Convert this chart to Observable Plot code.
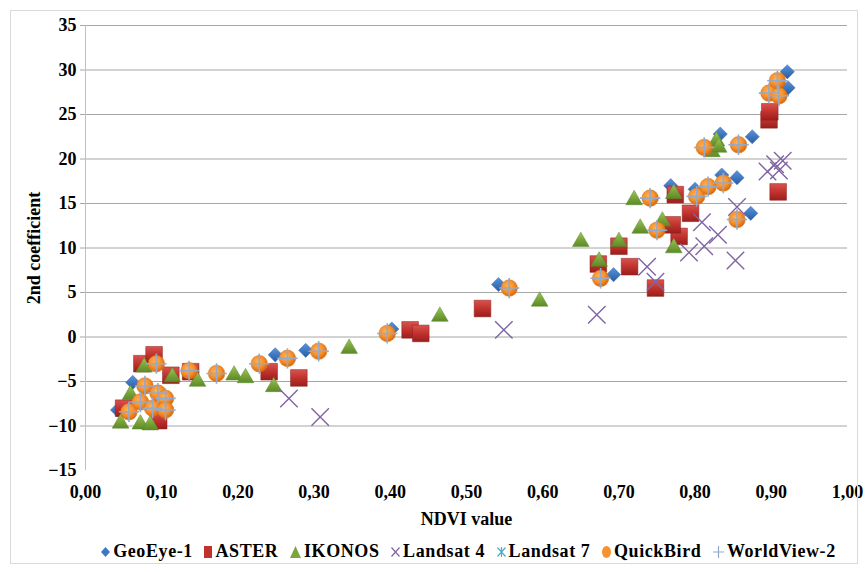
<!DOCTYPE html>
<html><head><meta charset="utf-8">
<script src="https://cdn.jsdelivr.net/npm/d3@7"></script>
<script src="https://cdn.jsdelivr.net/npm/@observablehq/plot@0.6"></script>
<style>
body{margin:0;background:#fff;}
#wrap{position:relative;width:868px;height:572px;font-family:"Liberation Serif","DejaVu Serif",serif;}
#border{position:absolute;left:10px;top:10px;width:848px;height:554px;border:1px solid #D9D9D9;box-sizing:border-box;pointer-events:none;}
#legend{position:absolute;left:0;top:541px;width:868px;display:flex;justify-content:center;align-items:center;padding-left:68px;box-sizing:border-box;font-weight:bold;font-size:18px;letter-spacing:0.6px;gap:10.5px;color:#000;}
#legend span.it{display:flex;align-items:center;gap:2px;white-space:nowrap;}
#legend svg{display:block;}
#chart svg text{font-family:"Liberation Serif","DejaVu Serif",serif;}
</style></head>
<body><div id="wrap"><div id="chart"></div><div id="legend"></div><div id="border"></div></div>
<script>
// ---- data (NDVI value, 2nd coefficient) ----
const geoEye1 = [[0.042,-8.2],[0.062,-5.1],[0.249,-2.0],[0.289,-1.5],[0.402,0.9],[0.542,5.9],[0.693,7.0],[0.768,17.0],[0.800,16.6],[0.835,18.2],[0.855,17.9],[0.873,13.9],[0.833,22.8],[0.875,22.5],[0.921,29.8],[0.922,28.0]];
const aster = [[0.050,-8.0],[0.074,-3.0],[0.090,-2.0],[0.096,-9.4],[0.112,-4.3],[0.138,-3.9],[0.241,-3.9],[0.280,-4.6],[0.426,0.8],[0.440,0.4],[0.521,3.2],[0.673,8.2],[0.700,10.2],[0.714,7.9],[0.748,5.5],[0.779,11.3],[0.770,12.6],[0.794,13.9],[0.774,16.0],[0.897,24.4],[0.898,25.3],[0.909,16.3]];
const ikonos = [[0.046,-9.7],[0.059,-6.5],[0.072,-9.8],[0.077,-3.4],[0.085,-9.9],[0.114,-4.5],[0.147,-5.0],[0.195,-4.3],[0.210,-4.6],[0.247,-5.6],[0.346,-1.3],[0.465,2.3],[0.596,4.0],[0.650,10.7],[0.674,8.5],[0.700,10.7],[0.720,15.4],[0.728,12.2],[0.757,13.0],[0.772,16.1],[0.772,10.0],[0.822,20.8],[0.828,22.0],[0.831,21.3]];
const landsat4 = [[0.267,-6.9],[0.308,-9.0],[0.549,0.8],[0.671,2.5],[0.737,7.9],[0.748,6.2],[0.792,9.5],[0.812,10.2],[0.809,12.9],[0.830,11.5],[0.853,8.6],[0.855,14.6],[0.895,18.6],[0.905,19.4],[0.910,18.7],[0.915,19.8]];
const landsat7 = [[0.057,-8.4],[0.072,-7.3],[0.078,-5.5],[0.088,-8.0],[0.093,-3.0],[0.095,-6.3],[0.105,-6.9],[0.105,-8.2],[0.136,-3.8],[0.172,-4.1],[0.228,-3.0],[0.265,-2.4],[0.306,-1.6],[0.396,0.4]];
const quickBird = [[0.057,-8.4],[0.072,-7.3],[0.078,-5.5],[0.088,-8.0],[0.093,-3.0],[0.095,-6.3],[0.105,-6.9],[0.105,-8.2],[0.136,-3.8],[0.172,-4.1],[0.228,-3.0],[0.265,-2.4],[0.306,-1.6],[0.396,0.4],[0.556,5.5],[0.676,6.6],[0.741,15.6],[0.750,12.0],[0.802,15.8],[0.817,16.9],[0.837,17.3],[0.855,13.2],[0.812,21.3],[0.857,21.6],[0.897,27.4],[0.910,27.1],[0.908,28.8]];
const worldView2 = [[0.057,-8.4],[0.072,-7.3],[0.078,-5.5],[0.088,-8.0],[0.093,-3.0],[0.095,-6.3],[0.105,-6.9],[0.105,-8.2],[0.136,-3.8],[0.172,-4.1],[0.228,-3.0],[0.265,-2.4],[0.306,-1.6],[0.396,0.4],[0.556,5.5],[0.676,6.6],[0.741,15.6],[0.750,12.0],[0.802,15.8],[0.817,16.9],[0.837,17.3],[0.855,13.2],[0.812,21.3],[0.857,21.6],[0.897,27.4],[0.910,27.1],[0.908,28.8]];

const xTicks = [0,0.1,0.2,0.3,0.4,0.5,0.6,0.7,0.8,0.9,1.0];
const yTicks = [-15,-10,-5,0,5,10,15,20,25,30,35];
const yGrid = [-10,-5,0,5,10,15,20,25,30,35];
const seriesNames = ["GeoEye-1","ASTER","IKONOS","Landsat 4","Landsat 7","QuickBird","WorldView-2"];

const fmtX = d => d.toFixed(2).replace(".", ",");
const X = d => d[0], Y = d => d[1];

const plot = Plot.plot({
  width: 868, height: 538,
  marginLeft: 85, marginRight: 21, marginTop: 25, marginBottom: 68,
  style: {fontFamily: "Liberation Serif, DejaVu Serif, serif", fontSize: "18px", fontWeight: "bold", color: "#000", background: "transparent", overflow: "visible"},
  x: {domain: [0, 1]},
  y: {domain: [-15, 35]},
  marks: [
    Plot.ruleY(yGrid, {stroke: "#A6A6A6", strokeWidth: 1, insetLeft: -5}),
    Plot.ruleX([0], {stroke: "#BFBFBF"}),
    Plot.axisY({ticks: yTicks, tickSize: 0, tickPadding: 9, label: "2nd coefficient", labelAnchor: "center", labelOffset: 58, labelArrow: "none", fill: "#000"}),
    Plot.axisX({ticks: xTicks, tickFormat: fmtX, tickSize: 0, tickPadding: 15, label: "NDVI value", labelAnchor: "center", labelOffset: 54, labelArrow: "none", fill: "#000"}),
    Plot.dot(geoEye1, {x: X, y: Y, symbol: "diamond2", r: 6.4, fill: "url(#gBlue)", stroke: "#3A6FB0", strokeWidth: 0.5}),
    Plot.dot(aster, {x: X, y: Y, symbol: "square", r: 9.4, fill: "url(#gRed)", stroke: "#8E1F1C", strokeWidth: 0.5}),
    Plot.dot(ikonos, {x: X, y: Y, symbol: "triangle", r: 6.2, fill: "url(#gGreen)", stroke: "#5C8A2C", strokeWidth: 0.5}),
    Plot.dot(landsat4, {x: X, y: Y, symbol: "times", r: 8, stroke: "#8064A2", strokeWidth: 1.4}),
    Plot.dot(landsat7, {x: X, y: Y, symbol: "asterisk", r: 7, stroke: "#4BACC6", strokeWidth: 1.4}),
    Plot.dot(quickBird, {x: X, y: Y, symbol: "circle", r: 8.3, fill: "url(#gOrange)", stroke: "#D9731A", strokeWidth: 0.5}),
    Plot.dot(worldView2, {x: X, y: Y, symbol: "plus", r: 6.6, stroke: "#94AACB", strokeWidth: 1.6})
  ]
});

const svg = plot.tagName.toLowerCase() === "svg" ? plot : plot.querySelector("svg");
d3.select(svg).insert("defs", ":first-child").html(`
  <radialGradient id="gOrange" cx="0.42" cy="0.38" r="0.62">
    <stop offset="0" stop-color="#FFB25C"/><stop offset="0.55" stop-color="#F7922E"/><stop offset="1" stop-color="#D8690E"/>
  </radialGradient>
  <linearGradient id="gRed" x1="0" y1="0" x2="0" y2="1">
    <stop offset="0" stop-color="#D9534E"/><stop offset="0.5" stop-color="#C0322E"/><stop offset="1" stop-color="#9A1E1C"/>
  </linearGradient>
  <linearGradient id="gGreen" x1="0" y1="0" x2="0" y2="1">
    <stop offset="0" stop-color="#9CC65A"/><stop offset="0.5" stop-color="#7BA63C"/><stop offset="1" stop-color="#5D8A28"/>
  </linearGradient>
  <linearGradient id="gBlue" x1="0" y1="0" x2="0" y2="1">
    <stop offset="0" stop-color="#5B93D8"/><stop offset="0.5" stop-color="#3F78C0"/><stop offset="1" stop-color="#2A5A9C"/>
  </linearGradient>`);
document.getElementById("chart").appendChild(plot);

// ---- legend ----
const legendIcons = {
  "GeoEye-1": `<svg width="11" height="14"><path d="M5.5 2 L10 7 L5.5 12 L1 7Z" fill="#3F78C0"/></svg>`,
  "ASTER": `<svg width="10" height="14"><rect x="1" y="1" width="8" height="12" fill="#C0322E"/></svg>`,
  "IKONOS": `<svg width="13" height="14"><path d="M6.5 1 L12 13 L1 13Z" fill="#7BA63C"/></svg>`,
  "Landsat 4": `<svg width="11" height="14"><path d="M1.5 2.5 L9.5 11.5 M9.5 2.5 L1.5 11.5" stroke="#8064A2" stroke-width="1.2"/></svg>`,
  "Landsat 7": `<svg width="11" height="14"><path d="M1.5 2.5 L9.5 11.5 M9.5 2.5 L1.5 11.5 M5.5 2 L5.5 12" stroke="#4BACC6" stroke-width="1.2"/></svg>`,
  "QuickBird": `<svg width="11" height="14"><ellipse cx="5.5" cy="7" rx="4.5" ry="6" fill="#F7922E"/></svg>`,
  "WorldView-2": `<svg width="13" height="14"><path d="M1 7 L12 7 M6.5 1 L6.5 13" stroke="#94AACB" stroke-width="1.2"/></svg>`
};
document.getElementById("legend").innerHTML = seriesNames.map(n => `<span class="it">${legendIcons[n]}<span>${n}</span></span>`).join("");
</script>
</body></html>
